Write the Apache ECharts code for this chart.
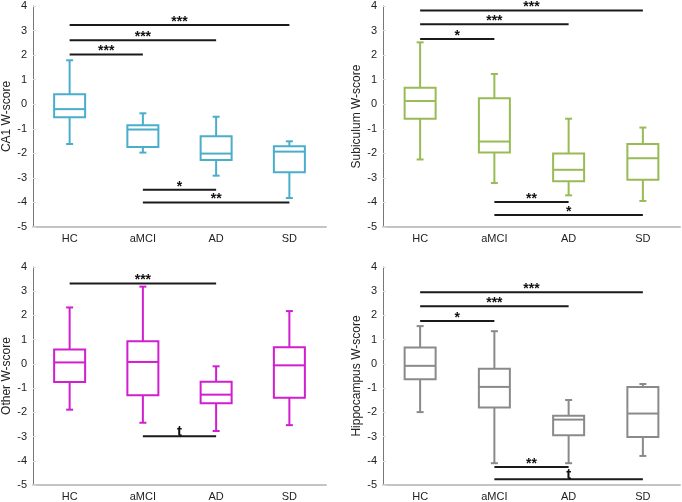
<!DOCTYPE html>
<html><head><meta charset="utf-8">
<script src="https://cdn.jsdelivr.net/npm/echarts@6/dist/echarts.min.js"></script>
<style>html,body{margin:0;padding:0;background:#fff}#c{width:682px;height:502px}</style>
</head><body><div id="c"></div>
<script>
// ---- data ----
const categories = ['HC', 'aMCI', 'AD', 'SD'];
const yTicks = [-5, -4, -3, -2, -1, 0, 1, 2, 3, 4];
// boxes: [lowerWhisker, Q1, median, Q3, upperWhisker] per category
const ca1Box = [[-1.62, -0.53, -0.20, 0.41, 1.79], [-1.97, -1.74, -1.03, -0.86, -0.37], [-2.91, -2.27, -2.01, -1.30, -0.51], [-3.82, -2.77, -1.93, -1.71, -1.51]];
const subBox = [[-2.25, -0.59, 0.13, 0.67, 2.52], [-3.21, -1.97, -1.52, 0.24, 1.23], [-3.71, -3.14, -2.67, -2.01, -0.59], [-3.94, -3.08, -2.20, -1.62, -0.95]];
const othBox = [[-1.89, -0.75, 0.06, 0.59, 2.33], [-2.43, -1.29, 0.08, 0.93, 3.19], [-2.77, -1.63, -1.27, -0.74, -0.10], [-2.53, -1.40, -0.06, 0.69, 2.18]];
const hipBox = [[-1.99, -0.63, -0.08, 0.68, 1.56], [-4.10, -1.80, -0.95, -0.20, 1.35], [-4.10, -2.95, -2.30, -2.14, -1.49], [-3.80, -3.02, -2.05, -0.95, -0.83]];
// significance bars: [fromIndex, toIndex, y, label]
const ca1Sig = [[0, 3, 3.23, '***'], [0, 2, 2.61, '***'], [0, 1, 2.02, '***'], [1, 2, -3.48, '*'], [1, 3, -4.00, '**']];
const subSig = [[0, 3, 3.82, '***'], [0, 2, 3.26, '***'], [0, 1, 2.66, '*'], [1, 2, -3.98, '**'], [1, 3, -4.51, '*']];
const othSig = [[0, 2, 3.32, '***'], [1, 2, -2.99, 't']];
const hipSig = [[0, 3, 2.96, '***'], [0, 2, 2.38, '***'], [0, 1, 1.77, '*'], [1, 2, -4.26, '**'], [1, 3, -4.76, 't']];
const panelNames = ['CA1 W-score', 'Subiculum W-score', 'Other W-score', 'Hippocampus W-score'];
const panelColors = ['#4aaecb', '#99bb55', '#d01ed0', '#8a8a8a'];

// ---- layout ----
const grids = [
  {left: 30, top: 6, width: 296, height: 221},
  {left: 383, top: 6, width: 297, height: 221},
  {left: 30, top: 267, width: 296, height: 221},
  {left: 383, top: 267, width: 297, height: 221}
];
const FONT = 'Liberation Sans, Arial, sans-serif';
const boxes = [ca1Box, subBox, othBox, hipBox];
const sigs = [ca1Sig, subSig, othSig, hipSig];

const xAxes = grids.map((g, i) => ({
  type: 'category', gridIndex: i, data: categories, boundaryGap: true,
  axisLine: {show: true, onZero: false, lineStyle: {color: '#c4c4c4', width: 2}},
  axisTick: {show: false},
  axisLabel: {color: '#222', fontSize: 11, fontFamily: FONT, margin: 6},
  splitLine: {show: false}
}));
const yAxes = grids.map((g, i) => ({
  type: 'value', gridIndex: i, min: -5, max: 4, interval: 1,
  name: panelNames[i], nameLocation: 'middle', nameGap: 20,
  nameTextStyle: {color: '#222', fontSize: 12, fontFamily: FONT},
  axisLine: {show: true, onZero: false, lineStyle: {color: '#777', width: 1}},
  axisTick: {show: true, inside: true, length: 3, lineStyle: {color: '#ddd'}},
  axisLabel: {color: '#222', fontSize: 11, fontFamily: FONT, margin: 6,
    formatter: v => yTicks.includes(v) ? String(v) : ''},
  splitLine: {show: false}
}));

function boxSeries(i) {
  const color = panelColors[i];
  return {
    type: 'custom', xAxisIndex: i, yAxisIndex: i,
    data: boxes[i].map((b, k) => [k].concat(b)),
    renderItem: function (params, api) {
      const x = api.value(0);
      const pMin = api.coord([x, api.value(1)]);
      const pQ1 = api.coord([x, api.value(2)]);
      const pMed = api.coord([x, api.value(3)]);
      const pQ3 = api.coord([x, api.value(4)]);
      const pMax = api.coord([x, api.value(5)]);
      const hw = 15.5, cw = 3.5, cx = pMin[0];
      const st = {stroke: color, lineWidth: 2, fill: null};
      return {type: 'group', children: [
        {type: 'line', shape: {x1: cx, y1: pMax[1], x2: cx, y2: pQ3[1]}, style: st},
        {type: 'line', shape: {x1: cx, y1: pQ1[1], x2: cx, y2: pMin[1]}, style: st},
        {type: 'line', shape: {x1: cx - cw, y1: pMax[1], x2: cx + cw, y2: pMax[1]}, style: st},
        {type: 'line', shape: {x1: cx - cw, y1: pMin[1], x2: cx + cw, y2: pMin[1]}, style: st},
        {type: 'rect', shape: {x: cx - hw, y: pQ3[1], width: 2 * hw, height: pQ1[1] - pQ3[1]}, style: st},
        {type: 'line', shape: {x1: cx - hw, y1: pMed[1], x2: cx + hw, y2: pMed[1]}, style: st}
      ]};
    }
  };
}
function sigSeries(i) {
  return {
    type: 'custom', xAxisIndex: i, yAxisIndex: i,
    data: sigs[i].map(s => [s[0], s[1], s[2], s[3]]),
    renderItem: function (params, api) {
      const d = sigs[i][params.dataIndex];
      const a = api.coord([d[0], d[2]]);
      const b = api.coord([d[1], d[2]]);
      const isT = d[3] === 't';
      return {type: 'group', children: [
        {type: 'line', shape: {x1: a[0], y1: a[1], x2: b[0], y2: b[1]}, style: {stroke: '#1a1a1a', lineWidth: 2}},
        {type: 'text', x: (a[0] + b[0]) / 2, y: isT ? a[1] + 3 : a[1] + 4,
          style: {text: d[3], fill: '#111', font: 'bold ' + (isT ? 15 : 14) + 'px ' + FONT,
            textAlign: 'center', textVerticalAlign: 'bottom'}}
      ]};
    }
  };
}
const series = [];
for (let i = 0; i < 4; i++) { series.push(boxSeries(i)); series.push(sigSeries(i)); }

const chart = echarts.init(document.getElementById('c'), null, {renderer: 'canvas'});
chart.setOption({
  animation: false, backgroundColor: '#fff',
  grid: grids, xAxis: xAxes, yAxis: yAxes, series: series
});
</script></body></html>
